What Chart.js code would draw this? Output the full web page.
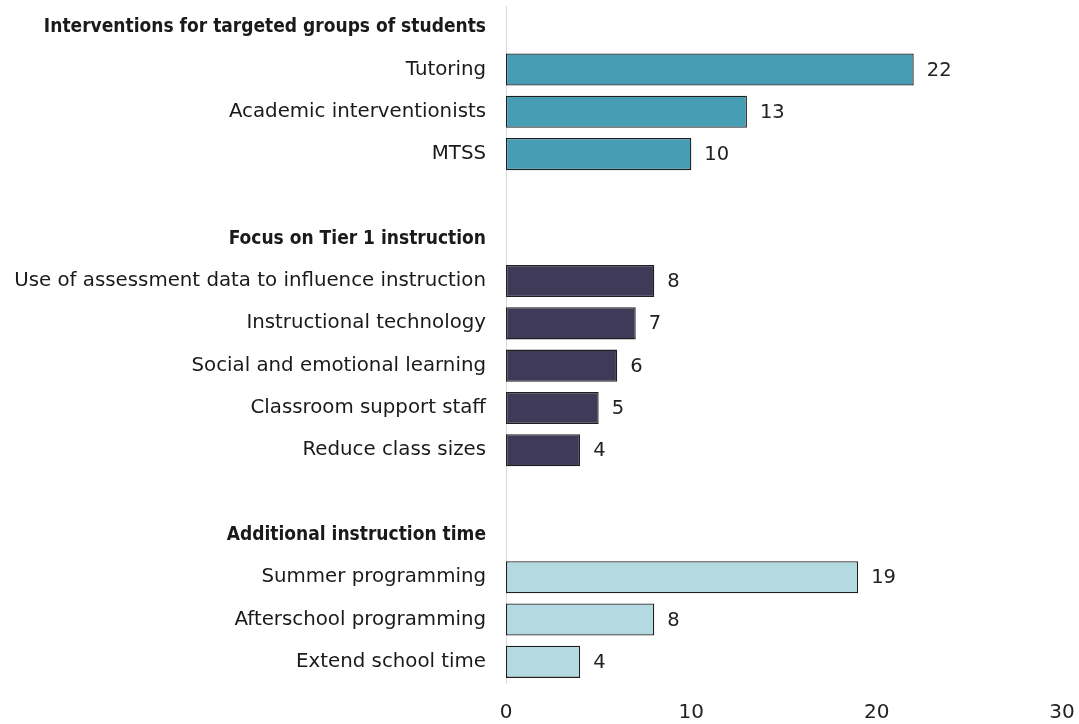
<!DOCTYPE html>
<html>
<head>
<meta charset="utf-8">
<script src="https://cdn.jsdelivr.net/npm/chart.js@4.4.1/dist/chart.umd.min.js"></script>
<style>
  html, body { margin: 0; padding: 0; background: #ffffff; }
  #wrap { width: 1079px; height: 724px; position: relative; }
</style>
</head>
<body>
<div id="wrap"><canvas id="strategiesChart"></canvas></div>
<script>
// Row labels (group headings and blank spacer rows included)
const rowLabels = [
  'Interventions for targeted groups of students',
  'Tutoring',
  'Academic interventionists',
  'MTSS',
  '',
  'Focus on Tier 1 instruction',
  'Use of assessment data to influence instruction',
  'Instructional technology',
  'Social and emotional learning',
  'Classroom support staff',
  'Reduce class sizes',
  '',
  'Additional instruction time',
  'Summer programming',
  'Afterschool programming',
  'Extend school time'
];

// Number of districts per strategy (null = heading / spacer)
const districtCounts = [null, 22, 13, 10, null, null, 8, 7, 6, 5, 4, null, null, 19, 8, 4];

// Which group each row belongs to
const rowGroups = [0, 0, 0, 0, -1, 1, 1, 1, 1, 1, 1, -1, 2, 2, 2, 2];
const headingRows = [0, 5, 12];

const groupColors = ['#479db4', '#3e3a57', '#b4dae1'];
const xTicks = [0, 10, 20, 30];

const FONT = "'DejaVu Sans', sans-serif";
const HEAD_FONT = "'DejaVu Sans Condensed', 'DejaVu Sans', sans-serif";

// Value labels to the right of each bar
const valueLabels = {
  id: 'valueLabels',
  afterDatasetsDraw(chart) {
    const { ctx } = chart;
    const meta = chart.getDatasetMeta(0);
    ctx.save();
    ctx.font = '19.5px ' + FONT;
    ctx.fillStyle = '#222222';
    ctx.textAlign = 'left';
    ctx.textBaseline = 'middle';
    meta.data.forEach((bar, i) => {
      const v = districtCounts[i];
      if (v === null) return;
      ctx.fillText(String(v), bar.x + 13, bar.y + 1);
    });
    ctx.restore();
  }
};

const ctx = document.getElementById('strategiesChart').getContext('2d');
new Chart(ctx, {
  type: 'bar',
  data: {
    labels: rowLabels,
    datasets: [{
      data: districtCounts,
      backgroundColor: rowGroups.map(g => g >= 0 ? groupColors[g] : 'transparent'),
      borderColor: '#1f1f1f',
      borderWidth: 1.3,
      borderSkipped: false,
      barPercentage: 0.76,
      categoryPercentage: 1
    }]
  },
  options: {
    indexAxis: 'y',
    responsive: true,
    maintainAspectRatio: false,
    animation: false,
    layout: { autoPadding: false, padding: { left: 0, right: 17, top: 6, bottom: 0 } },
    plugins: {
      legend: { display: false },
      tooltip: { enabled: false }
    },
    scales: {
      y: {
        grid: { display: false, drawTicks: false },
        border: { display: true, color: '#d9d9d9', width: 1 },
        afterFit(scale) {
          scale.width = 506;
          scale.paddingTop = 0;
          scale.paddingBottom = 0;
        },
        ticks: {
          padding: 20,
          color: '#1a1a1a',
          autoSkip: false,
          font: (c) => headingRows.includes(c.index)
            ? { family: HEAD_FONT, size: 19, weight: 'bold' }
            : { family: FONT, size: 19.8, weight: 'normal' }
        }
      },
      x: {
        min: 0,
        max: 30,
        grid: { display: false, drawTicks: false },
        border: { display: false },
        afterFit(scale) {
          scale.height = 41;
          scale.paddingLeft = 0;
          scale.paddingRight = 0;
        },
        afterBuildTicks(scale) { scale.ticks = xTicks.map(v => ({ value: v })); },
        ticks: {
          padding: 18,
          color: '#222222',
          font: { family: FONT, size: 20 }
        }
      }
    }
  },
  plugins: [valueLabels]
});
</script>
</body>
</html>
